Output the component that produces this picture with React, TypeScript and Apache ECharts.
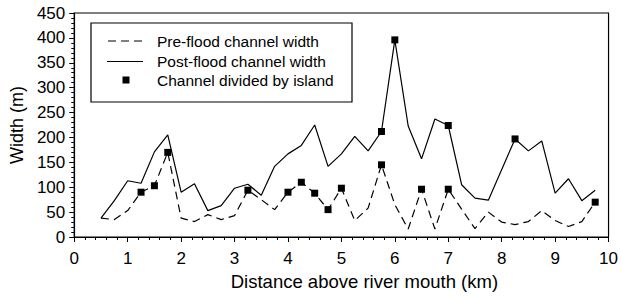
import React, { useEffect, useRef } from "react";
import * as echarts from "echarts";

const distanceKm = [
  0.5, 0.75, 1, 1.25, 1.5, 1.75, 2, 2.25, 2.5, 2.75, 3, 3.25, 3.5, 3.75, 4, 4.25, 4.5, 4.75, 5,
  5.25, 5.5, 5.75, 6, 6.25, 6.5, 6.75, 7, 7.25, 7.5, 7.75, 8, 8.25, 8.5, 8.75, 9, 9.25, 9.5, 9.75,
];
const preFloodWidth = [
  38, 35, 53, 90, 103, 170, 38, 31, 45, 35, 43, 94, 75, 55, 90, 110, 88, 55, 98, 33, 58, 145, 65,
  16, 96, 16, 96, 56, 17, 50, 30, 25, 31, 53, 33, 21, 31, 70,
];
const postFloodWidth: (number | null)[] = [
  38, 73, 113, 108, 171, 205, 90, 107, 53, 63, 98, 106, 84, 142, 167, 184, 225, 142, 167, 202, 173,
  212, 396, 223, 157, 237, 224, 105, 78, 74, null, 197, 173, 193, 88, 117, 73, 94,
];
const islandOnPreKm = [1.25, 1.5, 1.75, 3.25, 4, 4.25, 4.5, 4.75, 5, 5.75, 6.5, 7, 9.75];
const islandOnPostKm = [5.75, 6, 7, 8.25];

const legendLabels = ["Pre-flood channel width", "Post-flood channel width", "Channel divided by island"];

export default function App() {
  const ref = useRef<HTMLDivElement>(null);
  useEffect(() => {
    if (!ref.current) return;
    const chart = echarts.init(ref.current, undefined, { renderer: "svg" });
    const font = "'Liberation Sans', Arial, Helvetica, sans-serif";
    const pre = distanceKm.map((d, i) => [d, preFloodWidth[i]]);
    const post = distanceKm.map((d, i) => [d, postFloodWidth[i]]);
    const islands: number[][] = [];
    islandOnPreKm.forEach((k) => islands.push([k, preFloodWidth[distanceKm.indexOf(k)]]));
    islandOnPostKm.forEach((k) => islands.push([k, postFloodWidth[distanceKm.indexOf(k)] as number]));
    const rowY = [41, 61.5, 80.5];

    chart.setOption({
      animation: false,
      backgroundColor: "#fff",
      grid: {
        left: 73,
        right: 6,
        top: 13,
        bottom: 61,
        show: true,
        borderColor: "#000",
        borderWidth: 1.2,
      },
      xAxis: {
        type: "value",
        min: 0,
        max: 10,
        interval: 1,
        name: "Distance above river mouth (km)",
        nameLocation: "middle",
        nameGap: 33,
        nameTextStyle: { color: "#000", fontSize: 18.5, fontFamily: font, padding: [0, 0, 0, 46] },
        axisLine: { show: true, onZero: false, lineStyle: { color: "#000", width: 1.2 } },
        axisTick: { show: true, length: 5, lineStyle: { color: "#000" } },
        minorTick: { show: true, splitNumber: 5, length: 3, lineStyle: { color: "#000" } },
        splitLine: { show: false },
        axisLabel: { color: "#000", fontSize: 17, fontFamily: font, margin: 13 },
      },
      yAxis: {
        type: "value",
        min: 0,
        max: 450,
        interval: 50,
        name: "Width (m)",
        nameLocation: "middle",
        nameGap: 45,
        nameTextStyle: { color: "#000", fontSize: 18, fontFamily: font },
        axisLine: { show: true, lineStyle: { color: "#000", width: 1.2 } },
        axisTick: { show: true, length: 5, lineStyle: { color: "#000" } },
        minorTick: { show: true, splitNumber: 5, length: 3, lineStyle: { color: "#000" } },
        splitLine: { show: false },
        axisLabel: { color: "#000", fontSize: 17, fontFamily: font, margin: 9 },
      },
      series: [
        {
          type: "line",
          data: pre,
          showSymbol: false,
          symbol: "none",
          lineStyle: { color: "#000", width: 1.2, type: [8, 5] },
        },
        {
          type: "line",
          data: post,
          connectNulls: true,
          showSymbol: false,
          symbol: "none",
          lineStyle: { color: "#000", width: 1.2 },
        },
        {
          type: "scatter",
          data: islands,
          symbol: "rect",
          symbolSize: 7,
          itemStyle: { color: "#000", opacity: 1 },
          z: 5,
        },
      ],
      graphic: [
        {
          type: "rect",
          shape: { x: 91, y: 23, width: 261, height: 79 },
          style: { fill: "#fff", stroke: "#000", lineWidth: 1.2 },
          z: 10,
        },
        {
          type: "line",
          shape: { x1: 108, y1: rowY[0], x2: 143, y2: rowY[0] },
          style: { stroke: "#000", lineWidth: 1.2, lineDash: [8, 5] },
          z: 11,
        },
        {
          type: "line",
          shape: { x1: 107, y1: rowY[1], x2: 143, y2: rowY[1] },
          style: { stroke: "#000", lineWidth: 1.2 },
          z: 11,
        },
        {
          type: "rect",
          shape: { x: 122.5, y: rowY[2] - 4, width: 7, height: 7 },
          style: { fill: "#000" },
          z: 11,
        },
        ...legendLabels.map((t, i) => ({
          type: "text",
          x: 157,
          y: rowY[i],
          style: {
            text: t,
            fill: "#000",
            font: `15.5px ${font}`,
            textVerticalAlign: "middle",
          },
          z: 11,
        })),
      ],
    });
    return () => chart.dispose();
  }, []);
  return <div ref={ref} style={{ width: 621, height: 298, position: "absolute", left: 0, top: 0 }} />;
}
